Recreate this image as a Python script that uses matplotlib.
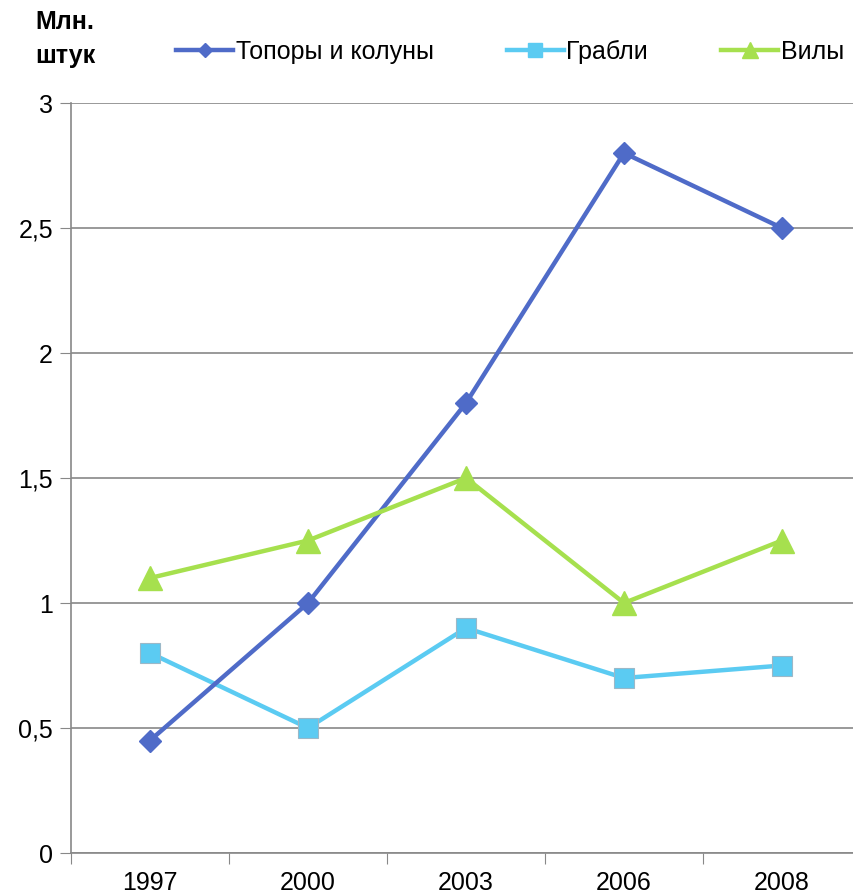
import matplotlib.pyplot as plt

years = ['1997', '2000', '2003', '2006', '2008']
axes_split = [0.45, 1.0, 1.8, 2.8, 2.5]   # Топоры и колуны
rakes = [0.8, 0.5, 0.9, 0.7, 0.75]        # Грабли
forks = [1.1, 1.25, 1.5, 1.0, 1.25]       # Вилы
yticks = [0, 0.5, 1, 1.5, 2, 2.5, 3]
ytick_labels = ['0', '0,5', '1', '1,5', '2', '2,5', '3']

plt.rcParams['font.family'] = ['Liberation Sans', 'DejaVu Sans']

W, H = 854, 896
fig = plt.figure(figsize=(W / 100, H / 100), dpi=100)
ax = fig.add_axes([71 / W, 1 - 853 / H, 790 / W, 750 / H])

x = list(range(len(years)))
ax.plot(x, rakes, color='#5BCBF2', lw=3.2, marker='s', ms=15,
        mec='#9BB8C8', mew=0.8, label='Грабли', zorder=3)
ax.plot(x, axes_split, color='#4F6BC8', lw=3.2, marker='D', ms=11,
        mec='#4F6BC8', label='Топоры и колуны', zorder=4)
ax.plot(x, forks, color='#A6E04E', lw=3.2, marker='^', ms=17,
        mec='#A6E04E', label='Вилы', zorder=5)

ax.set_xlim(-0.5, len(years) - 0.5)
ax.set_ylim(0, 3)
ax.set_yticks(yticks)
ax.set_yticklabels(ytick_labels, fontsize=18)
ax.set_xticks([i + 0.5 for i in range(-1, len(years))], minor=False)
ax.set_xticklabels([])
ax.set_xticks(x, minor=True)
ax.set_xticklabels(years, minor=True, fontsize=18)
ax.tick_params(axis='x', which='major', length=8, color='#888888', direction='out')
ax.tick_params(axis='x', which='minor', length=0, pad=13)
ax.tick_params(axis='y', length=8, color='#888888', pad=5)

ax.grid(axis='y', color='#888888', lw=1.2)
ax.set_axisbelow(True)
for s in ['top', 'right']:
    ax.spines[s].set_visible(False)
for s in ['left', 'bottom']:
    ax.spines[s].set_color('#888888')
    ax.spines[s].set_linewidth(1.2)

handles, labels = ax.get_legend_handles_labels()
order = [1, 0, 2]
leg_h = []
for i in order:
    h = handles[i]
    leg_h.append(plt.Line2D([], [], color=h.get_color(), lw=3.2,
                            marker=h.get_marker(), ms=h.get_markersize() * 0.65,
                            mec=h.get_color()))
fig.legend(leg_h, [labels[i] for i in order],
           loc='center left', bbox_to_anchor=(176 / W, 1 - 52 / H), ncol=3,
           frameon=False, fontsize=18, handlelength=2.3, handletextpad=0.1,
           columnspacing=2.9, borderaxespad=0, borderpad=0)

fig.text(35 / W, 1 - 22 / H, 'Млн.', fontsize=18, fontweight='bold',
         va='center', ha='left')
fig.text(35 / W, 1 - 56 / H, 'штук', fontsize=18, fontweight='bold',
         va='center', ha='left')

fig.savefig('out.png', dpi=100)
